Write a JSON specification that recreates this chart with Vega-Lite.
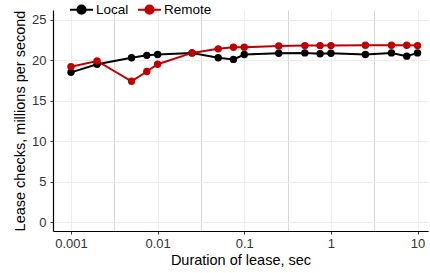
{
  "$schema": "https://vega.github.io/schema/vega-lite/v6.json",
  "autosize": "none",
  "width": 375,
  "height": 221,
  "padding": {"left": 53, "top": 10, "right": 2, "bottom": 42},
  "background": "white",
  "config": {
    "font": "Liberation Sans",
    "view": {"stroke": null},
    "axis": {"labelFont": "Liberation Sans", "titleFont": "Liberation Sans", "titleFontWeight": "normal"}
  },
  "data": {
    "values": [
      {"lease": 0.001, "series": "Local", "rate": 18.5},
      {"lease": 0.002, "series": "Local", "rate": 19.5},
      {"lease": 0.005, "series": "Local", "rate": 20.3},
      {"lease": 0.0075, "series": "Local", "rate": 20.6},
      {"lease": 0.01, "series": "Local", "rate": 20.7},
      {"lease": 0.025, "series": "Local", "rate": 20.9},
      {"lease": 0.05, "series": "Local", "rate": 20.3},
      {"lease": 0.075, "series": "Local", "rate": 20.1},
      {"lease": 0.1, "series": "Local", "rate": 20.7},
      {"lease": 0.25, "series": "Local", "rate": 20.85},
      {"lease": 0.5, "series": "Local", "rate": 20.9},
      {"lease": 0.75, "series": "Local", "rate": 20.8},
      {"lease": 1, "series": "Local", "rate": 20.85},
      {"lease": 2.5, "series": "Local", "rate": 20.7},
      {"lease": 5, "series": "Local", "rate": 20.9},
      {"lease": 7.5, "series": "Local", "rate": 20.5},
      {"lease": 10, "series": "Local", "rate": 20.9},
      {"lease": 0.001, "series": "Remote", "rate": 19.2},
      {"lease": 0.002, "series": "Remote", "rate": 19.9},
      {"lease": 0.005, "series": "Remote", "rate": 17.4},
      {"lease": 0.0075, "series": "Remote", "rate": 18.6},
      {"lease": 0.01, "series": "Remote", "rate": 19.5},
      {"lease": 0.025, "series": "Remote", "rate": 20.9},
      {"lease": 0.05, "series": "Remote", "rate": 21.4},
      {"lease": 0.075, "series": "Remote", "rate": 21.6},
      {"lease": 0.1, "series": "Remote", "rate": 21.6},
      {"lease": 0.25, "series": "Remote", "rate": 21.75},
      {"lease": 0.5, "series": "Remote", "rate": 21.8},
      {"lease": 0.75, "series": "Remote", "rate": 21.8},
      {"lease": 1, "series": "Remote", "rate": 21.8},
      {"lease": 2.5, "series": "Remote", "rate": 21.85},
      {"lease": 5, "series": "Remote", "rate": 21.85},
      {"lease": 7.5, "series": "Remote", "rate": 21.85},
      {"lease": 10, "series": "Remote", "rate": 21.8}
    ]
  },
  "mark": {"type": "line", "strokeWidth": 2, "point": {"size": 55, "filled": true, "opacity": 1}},
  "encoding": {
    "x": {
      "field": "lease", "type": "quantitative",
      "scale": {"type": "log", "domain": [0.00062, 13.2], "nice": false},
      "axis": {
        "title": "Duration of lease, sec",
        "values": [0.001, 0.00316, 0.01, 0.0316, 0.1, 0.316, 1, 3.16, 10],
        "labelExpr": "indexof([0.001,0.01,0.1,1,10], datum.value) >= 0 ? datum.label : ''",
        "format": "~g",
        "grid": true,
        "gridColor": {"condition": {"test": "indexof([0.001,0.01,0.1,1,10], datum.value) >= 0", "value": "#ececec"}, "value": "#d6d6d6"},
        "gridWidth": 1,
        "tickColor": {"condition": {"test": "indexof([0.001,0.01,0.1,1,10], datum.value) >= 0", "value": "#333333"}, "value": "rgba(0,0,0,0)"},
        "tickSize": 3,
        "domainColor": "black",
        "domainWidth": 1.2,
        "labelFontSize": 13,
        "labelColor": "#333333",
        "labelPadding": 3,
        "titleFontSize": 14.5,
        "titleColor": "black",
        "titlePadding": 3
      }
    },
    "y": {
      "field": "rate", "type": "quantitative",
      "scale": {"domain": [-1.1, 26.2], "nice": false, "zero": false},
      "axis": {
        "title": "Lease checks, millions per second",
        "values": [0, 5, 10, 15, 20, 25],
        "grid": true,
        "gridColor": "#ececec",
        "tickColor": "#333333",
        "tickSize": 3,
        "domainColor": "black",
        "domainWidth": 1.2,
        "labelFontSize": 13,
        "labelColor": "#333333",
        "labelPadding": 4,
        "titleFontSize": 14.5,
        "titleColor": "black",
        "titlePadding": 4
      }
    },
    "color": {
      "field": "series", "type": "nominal",
      "scale": {"domain": ["Local", "Remote"], "range": ["#000000", "#c00000"]},
      "legend": {
        "title": null,
        "orient": "none",
        "direction": "horizontal",
        "legendX": 19,
        "legendY": -10,
        "labelFontSize": 13.5,
        "labelColor": "black",
        "symbolType": "M-1.4,0L1.4,0M0.5,0A0.5,0.5,0,1,1,-0.5,0A0.5,0.5,0,1,1,0.5,0Z",
        "symbolSize": 269,
        "symbolStrokeWidth": 2,
        "labelOffset": 5,
        "columnPadding": 5,
        "encode": {
          "symbols": {"update": {"stroke": {"scale": "color", "field": "value"}, "fill": {"scale": "color", "field": "value"}, "strokeWidth": {"value": 2}}}
        }
      }
    }
  }
}
